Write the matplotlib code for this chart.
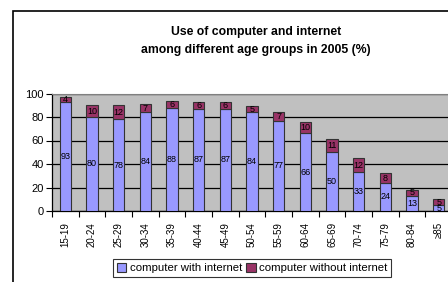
import matplotlib
matplotlib.use("Agg")
import matplotlib.pyplot as plt
from matplotlib.patches import Rectangle
import numpy as np

plt.rcParams["font.family"] = ["Liberation Sans", "DejaVu Sans"]

age_groups = ["15-19", "20-24", "25-29", "30-34", "35-39", "40-44", "45-49", "50-54",
              "55-59", "60-64", "65-69", "70-74", "75-79", "80-84", "≥85"]
with_internet = [93, 80, 78, 84, 88, 87, 87, 84, 77, 66, 50, 33, 24, 13, 5]
without_internet = [4, 10, 12, 7, 6, 6, 6, 5, 7, 10, 11, 12, 8, 5, 5]

W, H = 448, 282
fig = plt.figure(figsize=(W / 100, H / 100), dpi=100)

# chart frame (runs off the right / bottom edge like the original)
fig.patches.append(Rectangle((13 / W, -0.1), 1.0, 1 - 11 / H + 0.1, transform=fig.transFigure,
                             fill=False, edgecolor="black", linewidth=1.2, clip_on=False))

# plot area in pixels: x 52..452, y 93.5..211
ax = fig.add_axes([52 / W, (H - 211) / H, 400 / W, (211 - 93.5) / H])
ax.set_facecolor("#c0c0c0")

x = np.arange(len(age_groups))
ax.bar(x, with_internet, width=0.42, color="#9999ff", edgecolor="#333333", linewidth=0.8,
       label="computer with internet", zorder=3)
ax.bar(x, without_internet, width=0.42, bottom=with_internet, color="#993366",
       edgecolor="#333333", linewidth=0.8, label="computer without internet", zorder=3)

for i in range(len(x)):
    a, b = with_internet[i], without_internet[i]
    ax.text(x[i], a / 2, str(a), ha="center", va="center", fontsize=6.5, zorder=4)
    ax.text(x[i], a + b / 2, str(b), ha="center", va="center", fontsize=6.5, zorder=4)

ax.set_xlim(-0.5, len(x) - 0.5)
ax.set_ylim(0, 100)
ax.set_yticks([0, 20, 40, 60, 80, 100])
ax.yaxis.grid(True, color="black", linewidth=0.9, zorder=0)
ax.set_axisbelow(True)
ax.tick_params(axis="y", labelsize=8, length=4, width=0.8, pad=2)

ax.set_xticks(np.arange(len(x) + 1) - 0.5, minor=False)
ax.set_xticklabels([])
ax.set_xticks(x, minor=True)
ax.set_xticklabels(age_groups, minor=True, rotation=90, fontsize=7)
ax.tick_params(axis="x", which="major", length=4, width=0.8)
ax.tick_params(axis="x", which="minor", length=0, pad=8)

for s in ["left", "bottom"]:
    ax.spines[s].set_color("black")
    ax.spines[s].set_linewidth(0.9)
for s in ["top", "right"]:
    ax.spines[s].set_color("#808080")

fig.text(256 / W, 1 - 32 / H, "Use of computer and internet", ha="center", va="center",
         fontsize=8.8, fontweight="bold")
fig.text(256 / W, 1 - 50 / H, "among different age groups in 2005 (%)", ha="center",
         va="center", fontsize=8.8, fontweight="bold")

leg = fig.legend(loc="upper left", bbox_to_anchor=(113 / W, 1 - 259 / H), ncol=2,
                 fontsize=8.2, frameon=True, fancybox=False, handlelength=0.8,
                 handleheight=0.8, handletextpad=0.3, columnspacing=0.4,
                 borderpad=0.35, borderaxespad=0)
leg.get_frame().set_edgecolor("black")
leg.get_frame().set_linewidth(0.8)

fig.savefig("out.png", dpi=100)
